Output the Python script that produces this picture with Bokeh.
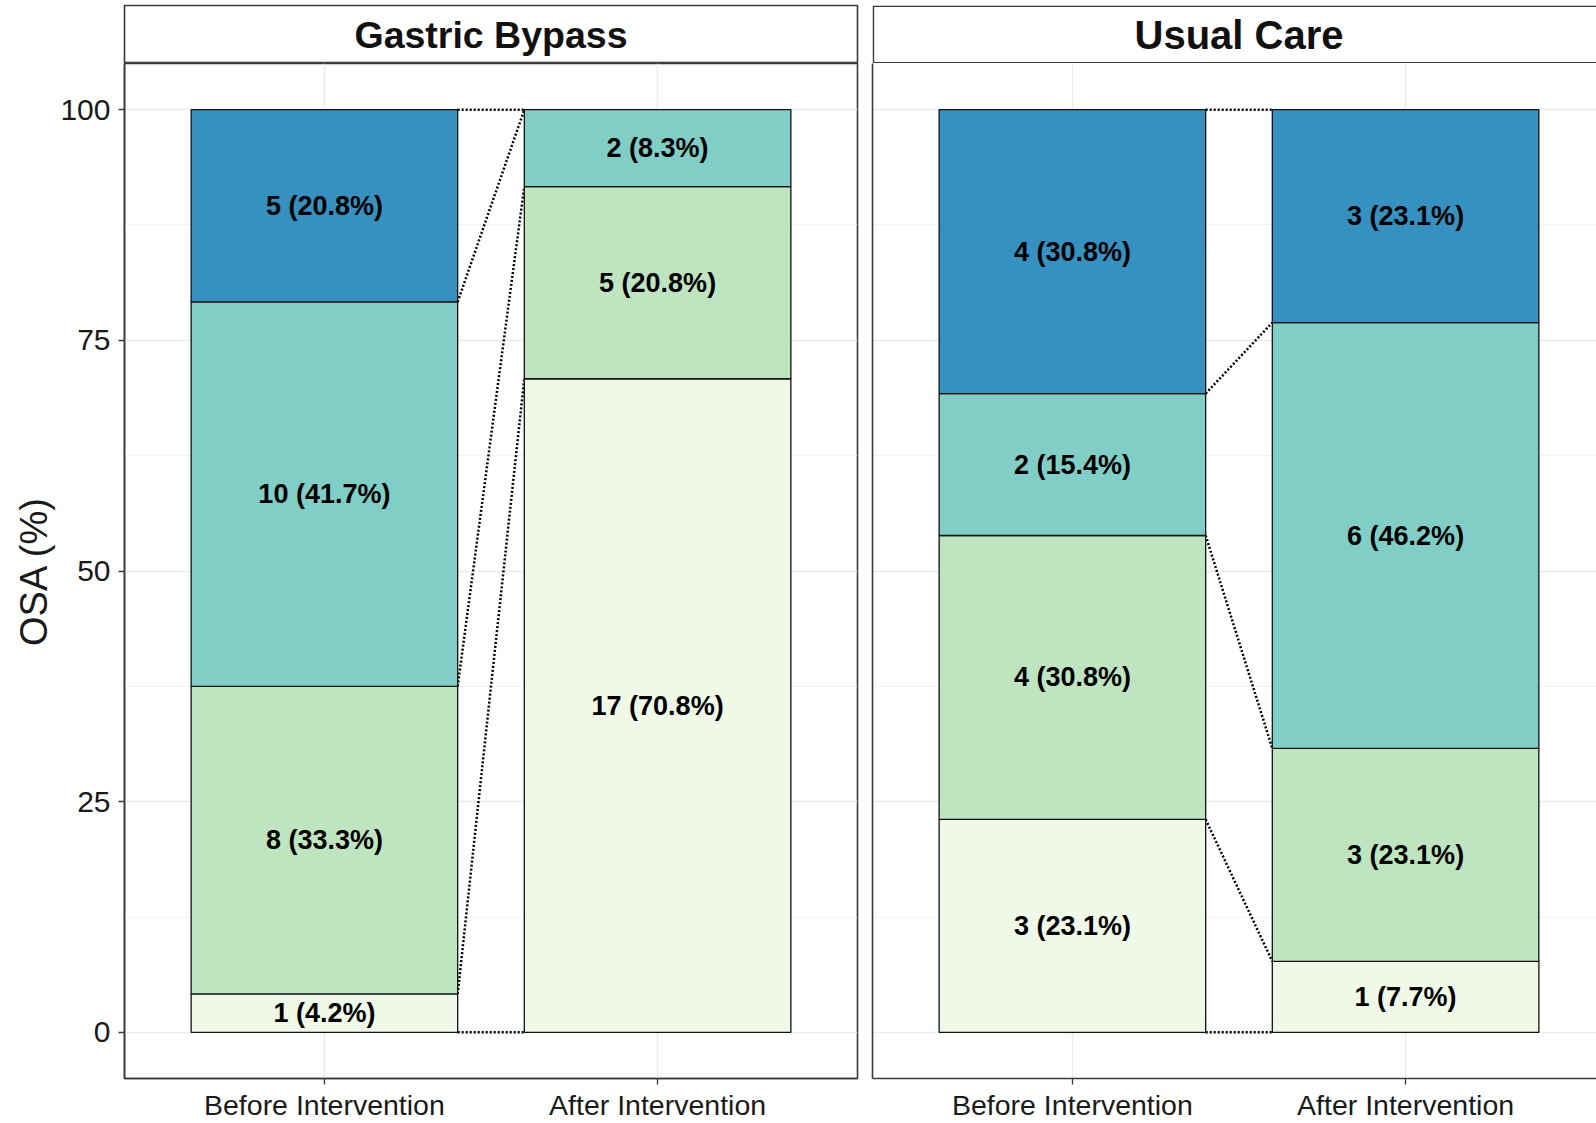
from bokeh.plotting import figure
from bokeh.models import FixedTicker, Range1d
from bokeh.layouts import row, column
from bokeh.embed import file_html
from bokeh.resources import INLINE
from bokeh.core.properties import value

# ---------------- data ----------------
groups = ["Gastric Bypass", "Usual Care"]
times = ["Before Intervention", "After Intervention"]
levels = ["None", "Mild", "Moderate", "Severe"]          # stacking order, bottom -> top
level_colors = ["#f0f9e8", "#bee5c0", "#80cec6", "#3690c0"]
gb_before = [1, 8, 10, 5]
gb_after = [17, 5, 2, 0]
uc_before = [3, 4, 2, 4]
uc_after = [1, 3, 6, 3]
y_ticks = [0, 25, 50, 75, 100]
y_minor = [12.5, 37.5, 62.5, 87.5]

counts = {"Gastric Bypass": [gb_before, gb_after],
          "Usual Care": [uc_before, uc_after]}

# ---------------- layout constants ----------------
FONT = "Liberation Sans"
STRIP_H = 63           # incl. 5px top border
PANEL_H = 1123 - STRIP_H
BAR_W = 0.8
BORDER = "#3a3a3a"
STRIP_FONT = {"Gastric Bypass": "37.5px", "Usual Care": "40px"}


def make_strip(group, first, width, x_end, mb_left, mb_right):
    s = figure(width=width, height=STRIP_H,
               x_range=Range1d(0.4, x_end), y_range=Range1d(0, 1),
               output_backend="svg", toolbar_location=None,
               x_axis_location=None, y_axis_location=None,
               min_border_top=5, min_border_bottom=0,
               min_border_left=mb_left, min_border_right=mb_right)
    s.grid.visible = False
    s.background_fill_color = "white"
    s.border_fill_color = "white"
    if first:
        s.outline_line_color = BORDER
        s.outline_line_width = 1.6
    else:
        s.outline_line_color = None
        s.quad(left=[0.4025], right=[2.7], bottom=[0.013], top=[0.987],
               fill_color="white", line_color=BORDER, line_width=1.6)
    s.text(x=[1.5], y=[0.5], text=[group],
           text_font=value(FONT), text_font_style="bold",
           text_font_size=STRIP_FONT[group],
           text_align="center", text_baseline="middle", text_color="#111111")
    return s


def make_panel(group, first, width, x_end, mb_left, mb_right):
    p = figure(width=width, height=PANEL_H,
               x_range=Range1d(0.4, x_end), y_range=Range1d(-5, 105),
               output_backend="svg", toolbar_location=None,
               min_border_top=0, min_border_bottom=0,
               min_border_left=mb_left, min_border_right=mb_right)
    p.background_fill_color = "white"
    p.border_fill_color = "white"

    xs = list(range(1, len(times) + 1))
    data = counts[group]

    L, R, B, T, C = [], [], [], [], []
    lx, ly, lt = [], [], []
    bounds = []
    for xi, cs in zip(xs, data):
        total = sum(cs)
        cum = 0.0
        bb = [0.0]
        for li, c in enumerate(cs):
            pct = c / total * 100
            if c > 0:
                L.append(xi - BAR_W / 2)
                R.append(xi + BAR_W / 2)
                B.append(cum)
                T.append(cum + pct)
                C.append(level_colors[li])
                lx.append(xi)
                ly.append(cum + pct / 2)
                lt.append(f"{c} ({pct:.1f}%)")
            cum += pct
            bb.append(cum)
        bounds.append(bb)

    # connectors between cumulative category boundaries
    sx0, sy0, sx1, sy1 = [], [], [], []
    for b0, b1 in zip(bounds[0], bounds[1]):
        sx0.append(xs[0] + BAR_W / 2)
        sy0.append(b0)
        sx1.append(xs[1] - BAR_W / 2)
        sy1.append(b1)
    p.segment(x0=sx0, y0=sy0, x1=sx1, y1=sy1, line_color="black",
              line_width=2.5, line_dash="2 2")

    p.quad(left=L, right=R, bottom=B, top=T, fill_color=C,
           line_color="#111111", line_width=1.3)
    p.text(x=lx, y=ly, text=lt, text_font=value(FONT), text_font_style="bold",
           text_font_size="27px", text_align="center", text_baseline="middle",
           text_color="black")

    # grids
    p.ygrid.ticker = FixedTicker(ticks=y_ticks, minor_ticks=y_minor)
    p.ygrid.grid_line_color = "#ebebeb"
    p.ygrid.grid_line_width = 1.4
    p.ygrid.minor_grid_line_color = "#f0f0f0"
    p.ygrid.minor_grid_line_width = 0.8
    p.xgrid.grid_line_color = "#ebebeb"
    p.xgrid.grid_line_width = 1.4

    # x axis
    xa = p.xaxis[0]
    xa.ticker = FixedTicker(ticks=xs)
    xa.major_label_overrides = {x: t for x, t in zip(xs, times)}
    xa.major_label_text_font = FONT
    xa.major_label_text_font_size = "28.5px"
    xa.major_label_text_color = "#1a1a1a"
    xa.major_label_standoff = 4
    xa.axis_label_standoff = 0
    xa.major_tick_out = 6
    xa.major_tick_in = 0
    xa.minor_tick_out = 0
    xa.major_tick_line_color = BORDER
    xa.axis_line_color = BORDER
    xa.axis_line_width = 1.6
    xa.major_tick_line_width = 1.3

    ya = p.yaxis[0]
    ya.axis_line_color = BORDER
    ya.axis_line_width = 1.6
    ya.minor_tick_out = 0
    ya.minor_tick_in = 0
    ya.major_tick_in = 0
    if first:
        ya.ticker = FixedTicker(ticks=y_ticks, minor_ticks=y_minor)
        ya.axis_label = "OSA (%)"
        ya.axis_label_text_font = FONT
        ya.axis_label_text_font_size = "38px"
        ya.axis_label_text_font_style = "normal"
        ya.axis_label_text_color = "#1a1a1a"
        ya.axis_label_standoff = 2
        ya.major_label_text_font = FONT
        ya.major_label_text_font_size = "30px"
        ya.major_label_text_color = "#1a1a1a"
        ya.major_label_standoff = 8
        ya.major_tick_out = 6
        ya.major_tick_line_color = BORDER
        ya.major_tick_line_width = 1.3
        p.outline_line_color = BORDER
        p.outline_line_width = 1.6
    else:
        ya.ticker = FixedTicker(ticks=[])
        ya.major_label_standoff = 0
        ya.major_tick_out = 0
        ya.major_tick_line_color = None
        p.outline_line_color = None
    return p


s1 = make_strip(groups[0], True, 864, 2.6, 124, 7)
s2 = make_strip(groups[1], False, 732, 2.573, 8, 0)
p1 = make_panel(groups[0], True, 864, 2.6, 124, 7)
p2 = make_panel(groups[1], False, 732, 2.573, 8, 0)

layout = column(row(s1, s2), row(p1, p2))
open("out.html", "w").write(file_html(layout, INLINE))
